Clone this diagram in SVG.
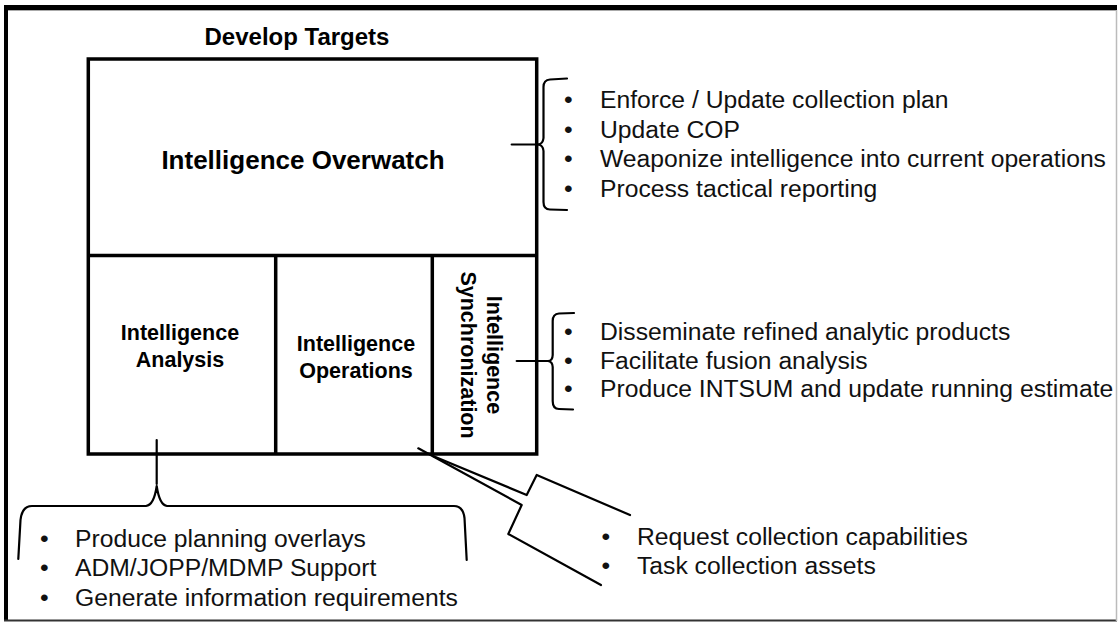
<svg xmlns="http://www.w3.org/2000/svg" width="1118" height="622" viewBox="0 0 1118 622">
  <style>
    .frame { fill: none; stroke: #000; stroke-width: 3.5; }
    .title { font-family: "Liberation Sans", Arial, sans-serif; font-weight: bold; fill: #000; }
    .item { font-family: "Liberation Sans", Arial, sans-serif; font-size: 24.7px; fill: #111; }
    .brace { fill: none; stroke: #000; stroke-width: 2.2; stroke-linejoin: round; stroke-linecap: round; }
  </style>

  <!-- page background and border -->
  <rect x="0" y="0" width="1118" height="622" fill="#fff"/>
  <g id="border">
    <line x1="4" y1="7.5" x2="1117" y2="7.5" stroke="#000" stroke-width="5"/>
    <line x1="4" y1="10.5" x2="1117" y2="10.5" stroke="#aaa" stroke-width="1"/>
    <line x1="6" y1="5" x2="6" y2="621" stroke="#000" stroke-width="4"/>
    <line x1="4" y1="620.5" x2="1117" y2="620.5" stroke="#333" stroke-width="2"/>
    <line x1="1116.5" y1="10" x2="1116.5" y2="621" stroke="#bbb" stroke-width="1.5"/>
  </g>

  <!-- outer box: Develop Targets -->
  <g id="develop-targets">
    <text class="title" x="297" y="45" font-size="24" text-anchor="middle">Develop Targets</text>
    <rect class="frame" x="88.3" y="59" width="448.4" height="395"/>
  </g>

  <g id="intelligence-overwatch">
    <line class="frame" x1="88.3" y1="255.5" x2="536.7" y2="255.5"/>
    <text class="title" x="303" y="169" font-size="26" text-anchor="middle">Intelligence Overwatch</text>
  </g>

  <g id="intelligence-analysis">
    <text class="title" x="180" y="340" font-size="21.5" text-anchor="middle">Intelligence</text>
    <text class="title" x="180" y="367" font-size="21.5" text-anchor="middle">Analysis</text>
  </g>

  <g id="intelligence-operations">
    <line class="frame" x1="275.7" y1="255.5" x2="275.7" y2="454"/>
    <text class="title" x="356" y="351" font-size="21.5" text-anchor="middle">Intelligence</text>
    <text class="title" x="356" y="378" font-size="21.5" text-anchor="middle">Operations</text>
  </g>

  <g id="intelligence-synchronization">
    <line class="frame" x1="432.3" y1="255.5" x2="432.3" y2="454"/>
    <!-- label reads top to bottom; second line sits to the left of the first -->
    <g transform="translate(487,355) rotate(90)">
      <text class="title" x="0" y="0" font-size="21.5" text-anchor="middle">Intelligence</text>
      <text class="title" x="0" y="26" font-size="21.5" text-anchor="middle">Synchronization</text>
    </g>
  </g>

  <!-- braces and callout lines -->
  <g id="connectors">
    <!-- overwatch brace -->
    <line class="brace" x1="511.7" y1="144.5" x2="538" y2="144.5"/>
    <path class="brace" d="M567,78.5 L550,79.5 Q543.5,80 543.5,87 L543.5,138 Q543,144 538,144.5 Q543,145 543.5,151 L543.5,202 Q543.5,209.5 550,209.5 L567,210"/>
    <!-- synchronization brace -->
    <line class="brace" x1="516.7" y1="361" x2="548" y2="361"/>
    <path class="brace" d="M574,313 L559,313.5 Q552.7,314 552.7,321 L552.7,355 Q552.5,361 548,361 Q552.5,361.5 552.7,367 L552.7,401 Q552.7,409 559,409 L573,409.5"/>
    <!-- analysis brace -->
    <line class="brace" x1="156.7" y1="440" x2="156.7" y2="484"/>
    <path class="brace" d="M18.3,559 L20.5,520 Q22,506 32,506 L146,506 Q154,505 156.7,486 Q159.5,505 167,506 L454,506 Q463,506 464.5,518 L466.7,560"/>
    <!-- operations callout -->
    <path class="brace" d="M418.3,448.3 L521.7,505 L508.3,534 L601,585"/>
    <path class="brace" d="M433,456 L526.7,495 L536.7,475 L630,515"/>
  </g>

  <g id="overwatch-tasks">
    <text class="item" x="564" y="108">•</text>
    <text class="item" x="600" y="108">Enforce / Update collection plan</text>
    <text class="item" x="564" y="137.5">•</text>
    <text class="item" x="600" y="137.5">Update COP</text>
    <text class="item" x="564" y="167">•</text>
    <text class="item" x="600" y="167">Weaponize intelligence into current operations</text>
    <text class="item" x="564" y="196.5">•</text>
    <text class="item" x="600" y="196.5">Process tactical reporting</text>
  </g>

  <g id="synchronization-tasks">
    <text class="item" x="564" y="340">•</text>
    <text class="item" x="600" y="340">Disseminate refined analytic products</text>
    <text class="item" x="564" y="368.5">•</text>
    <text class="item" x="600" y="368.5">Facilitate fusion analysis</text>
    <text class="item" x="564" y="397">•</text>
    <text class="item" x="600" y="397">Produce INTSUM and update running estimate</text>
  </g>

  <g id="analysis-tasks">
    <text class="item" x="40" y="546.5">•</text>
    <text class="item" x="75" y="546.5">Produce planning overlays</text>
    <text class="item" x="40" y="576">•</text>
    <text class="item" x="75" y="576">ADM/JOPP/MDMP Support</text>
    <text class="item" x="40" y="605.5">•</text>
    <text class="item" x="75" y="605.5">Generate information requirements</text>
  </g>

  <g id="operations-tasks">
    <text class="item" x="601.5" y="544.5">•</text>
    <text class="item" x="637" y="544.5">Request collection capabilities</text>
    <text class="item" x="601.5" y="574">•</text>
    <text class="item" x="637" y="574">Task collection assets</text>
  </g>
</svg>
